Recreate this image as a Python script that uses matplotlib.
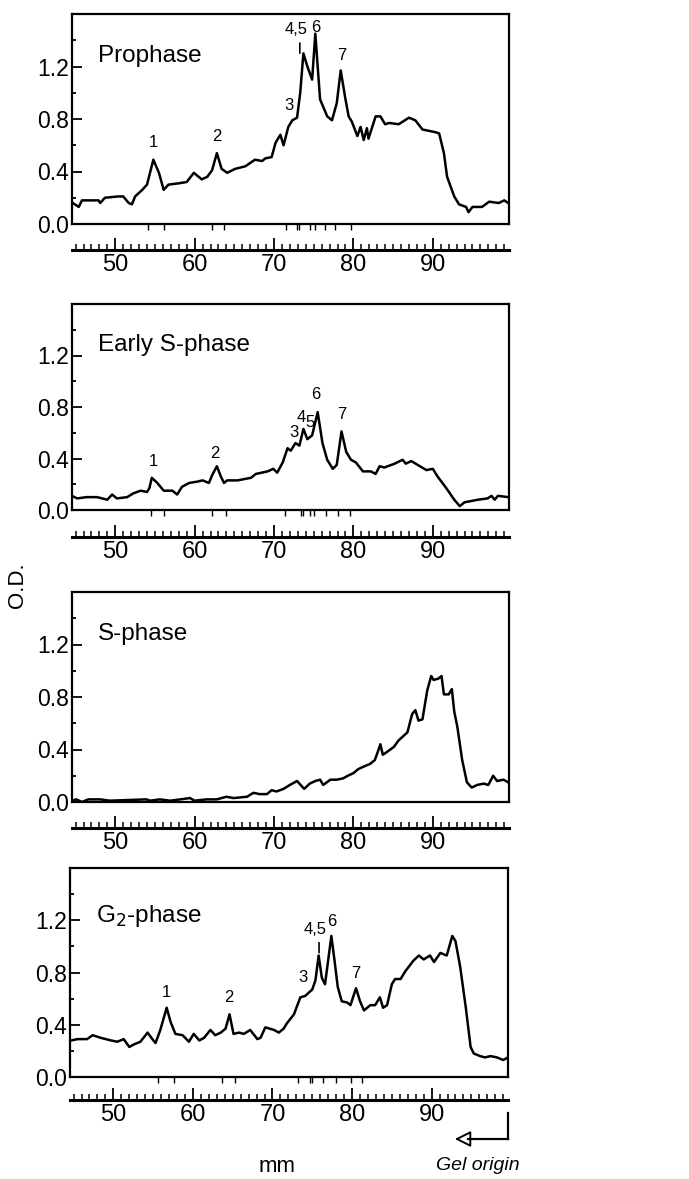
import numpy as np
import matplotlib
matplotlib.use("Agg")
import matplotlib.pyplot as plt
from matplotlib.lines import Line2D
from matplotlib.ticker import FixedLocator

plt.rcParams['font.family'] = ['Liberation Sans', 'DejaVu Sans']

# ---- densitometer traces (mm from gel, O.D.) ----
prophase_mm = [44.4, 45.4, 45.8, 47.9, 48.1, 48.7, 50.4, 51.0, 51.7, 52.1, 52.5, 53.4, 54.0,
               54.8, 55.5, 56.1, 56.7, 58.0, 59.0, 59.9, 60.5, 60.9, 61.6, 62.2, 62.8, 63.4,
               64.1, 65.1, 66.4, 67.6, 68.5, 68.9, 69.7, 70.2, 70.8, 71.2, 71.8, 72.3, 72.9,
               73.3, 73.7, 74.2, 74.8, 75.2, 75.8, 76.7, 77.3, 77.9, 78.4, 79.0, 79.4, 79.8,
               80.5, 80.9, 81.3, 81.7, 81.9, 82.8, 83.4, 84.0, 84.5, 85.7, 87.0, 87.8, 88.7,
               90.3, 90.8, 91.4, 91.8, 92.7, 93.3, 94.2, 94.5, 95.0, 96.2, 97.1, 98.3, 99.0, 99.5]
prophase_od = [0.17, 0.13, 0.18, 0.18, 0.16, 0.20, 0.21, 0.21, 0.16, 0.15, 0.21, 0.26, 0.30,
               0.49, 0.39, 0.26, 0.30, 0.31, 0.32, 0.39, 0.36, 0.34, 0.36, 0.41, 0.54, 0.42,
               0.39, 0.42, 0.44, 0.49, 0.48, 0.50, 0.51, 0.62, 0.68, 0.60, 0.74, 0.79, 0.81,
               1.00, 1.30, 1.20, 1.10, 1.45, 0.95, 0.82, 0.79, 0.92, 1.17, 0.95, 0.82, 0.78,
               0.67, 0.74, 0.64, 0.73, 0.65, 0.82, 0.82, 0.76, 0.77, 0.76, 0.81, 0.79, 0.72,
               0.70, 0.69, 0.54, 0.36, 0.21, 0.15, 0.13, 0.09, 0.13, 0.13, 0.17, 0.16, 0.18, 0.16]

early_s_mm = [44.2, 45.2, 46.4, 47.7, 49.0, 49.6, 50.2, 51.5, 52.3, 53.2, 54.0, 54.3, 54.6,
              55.3, 56.1, 57.2, 57.8, 58.4, 59.3, 60.3, 61.0, 61.8, 62.2, 62.8, 63.3, 63.7,
              64.1, 65.4, 67.1, 67.7, 69.2, 69.9, 70.4, 71.1, 71.7, 72.1, 72.7, 73.2, 73.7,
              74.2, 74.8, 75.5, 76.1, 76.7, 77.4, 77.9, 78.5, 79.1, 79.7, 80.3, 81.2, 82.2,
              82.8, 83.3, 83.9, 85.2, 86.2, 86.6, 87.3, 88.1, 89.2, 90.0, 90.6, 91.7, 92.7,
              93.4, 94.0, 95.7, 96.9, 97.4, 97.8, 98.2, 99.5]
early_s_od = [0.12, 0.09, 0.10, 0.10, 0.08, 0.12, 0.09, 0.10, 0.13, 0.15, 0.14, 0.17, 0.25,
              0.21, 0.15, 0.15, 0.12, 0.18, 0.21, 0.22, 0.23, 0.21, 0.27, 0.34, 0.26, 0.21,
              0.23, 0.23, 0.25, 0.28, 0.30, 0.32, 0.29, 0.37, 0.48, 0.46, 0.52, 0.50, 0.63,
              0.55, 0.58, 0.76, 0.52, 0.39, 0.32, 0.35, 0.61, 0.45, 0.39, 0.37, 0.30, 0.30,
              0.28, 0.34, 0.33, 0.36, 0.39, 0.36, 0.38, 0.35, 0.31, 0.32, 0.26, 0.17, 0.08,
              0.03, 0.06, 0.08, 0.09, 0.11, 0.08, 0.11, 0.10]

s_phase_mm = [44.5, 45.1, 45.8, 46.6, 48.1, 49.3, 53.9, 54.4, 55.6, 56.9, 58.2, 59.4, 60.0,
              61.5, 62.8, 64.0, 64.9, 66.6, 67.4, 68.2, 69.1, 69.7, 70.3, 71.2, 72.0, 72.9,
              73.8, 74.5, 75.2, 75.8, 76.2, 77.1, 77.9, 78.7, 79.3, 80.0, 80.6, 81.3, 82.1,
              82.7, 83.0, 83.4, 83.7, 84.2, 85.1, 85.7, 86.8, 87.4, 87.8, 88.2, 88.7, 89.3,
              89.8, 90.1, 90.7, 91.1, 91.4, 92.0, 92.4, 92.7, 93.1, 93.7, 94.3, 94.9, 95.6,
              96.4, 97.0, 97.6, 98.1, 98.9, 99.5]
s_phase_od = [0.01, 0.02, 0.00, 0.02, 0.02, 0.01, 0.02, 0.01, 0.02, 0.01, 0.02, 0.03, 0.01,
              0.02, 0.02, 0.04, 0.03, 0.04, 0.07, 0.06, 0.06, 0.09, 0.08, 0.10, 0.13, 0.16,
              0.10, 0.14, 0.16, 0.17, 0.13, 0.17, 0.17, 0.18, 0.20, 0.22, 0.25, 0.27, 0.29,
              0.32, 0.37, 0.44, 0.36, 0.38, 0.42, 0.47, 0.53, 0.67, 0.70, 0.62, 0.63, 0.85,
              0.96, 0.93, 0.94, 0.96, 0.82, 0.82, 0.86, 0.69, 0.57, 0.32, 0.15, 0.11, 0.13,
              0.14, 0.13, 0.20, 0.16, 0.17, 0.15]

g2_mm = [44.7, 45.5, 46.7, 47.4, 48.4, 49.7, 50.5, 51.3, 52.0, 52.6, 53.4, 54.3, 54.9, 55.3,
         55.9, 56.7, 57.2, 57.8, 58.7, 59.5, 60.1, 60.8, 61.4, 62.2, 62.8, 63.5, 64.1, 64.6,
         65.1, 65.8, 66.4, 67.2, 68.1, 68.5, 69.1, 70.2, 70.8, 71.4, 71.8, 72.7, 73.5, 74.1,
         75.0, 75.4, 75.8, 76.2, 76.6, 77.1, 77.4, 77.8, 78.2, 78.7, 79.4, 79.8, 80.5, 81.0,
         81.5, 82.3, 82.9, 83.5, 83.9, 84.4, 85.0, 85.4, 86.1, 86.7, 87.7, 88.4, 89.0, 89.8,
         90.3, 91.1, 91.9, 92.6, 93.0, 93.6, 94.3, 94.9, 95.3, 96.1, 96.7, 97.4, 98.2, 99.0, 99.6]
g2_od = [0.28, 0.29, 0.29, 0.32, 0.30, 0.28, 0.27, 0.29, 0.23, 0.25, 0.27, 0.34, 0.29, 0.26,
         0.36, 0.53, 0.42, 0.33, 0.32, 0.27, 0.33, 0.28, 0.30, 0.36, 0.32, 0.34, 0.37, 0.48,
         0.33, 0.34, 0.33, 0.36, 0.29, 0.30, 0.38, 0.36, 0.34, 0.37, 0.41, 0.48, 0.61, 0.62,
         0.67, 0.74, 0.93, 0.76, 0.71, 0.94, 1.08, 0.89, 0.69, 0.58, 0.57, 0.55, 0.68, 0.58,
         0.51, 0.55, 0.55, 0.61, 0.53, 0.55, 0.71, 0.75, 0.75, 0.81, 0.89, 0.93, 0.90, 0.93,
         0.88, 0.95, 0.93, 1.08, 1.04, 0.84, 0.53, 0.23, 0.18, 0.16, 0.15, 0.16, 0.15, 0.13, 0.15]

# peak numbers: (text, mm, O.D.)
prophase_peaks = [("1", 54.8, 0.62), ("2", 62.8, 0.67), ("3", 71.9, 0.90),
                  ("4,5", 72.8, 1.48), ("6", 75.2, 1.50), ("7", 78.5, 1.28)]
early_s_peaks = [("1", 54.8, 0.38), ("2", 62.6, 0.44), ("3", 72.5, 0.60),
                 ("4", 73.4, 0.72), ("5", 74.5, 0.68), ("6", 75.3, 0.90), ("7", 78.5, 0.74)]
s_phase_peaks = []
g2_peaks = [("1", 56.7, 0.65), ("2", 64.5, 0.61), ("3", 73.8, 0.76),
            ("4,5", 75.4, 1.13), ("6", 77.5, 1.19), ("7", 80.5, 0.79)]

# band boundary marks under each trace
prophase_marks = [54.1, 56.1, 62.2, 63.7, 71.5, 72.9, 73.2, 74.5, 75.1, 76.4, 77.7, 79.7]
early_s_marks = [54.5, 56.2, 62.2, 63.9, 71.4, 73.4, 73.7, 74.5, 75.0, 76.6, 78.1, 79.6]
s_phase_marks = []
g2_marks = [55.6, 57.6, 63.7, 65.3, 73.2, 74.7, 75.0, 76.4, 78.0, 79.9, 81.3]

titles = ["Prophase", "Early S-phase", "S-phase", "G$_2$-phase"]

W, H = 689, 1179
fig = plt.figure(figsize=(W / 100, H / 100), dpi=100)

# axes boxes in pixels: left, top, right, bottom ; ruler offset below box
boxes = [(72, 14, 509, 224), (72, 304, 509, 510), (72, 592, 509, 802), (70, 868, 508, 1077)]
ruler_off = [26, 27, 26, 23]

panels = [
    (prophase_mm, prophase_od, prophase_peaks, prophase_marks),
    (early_s_mm, early_s_od, early_s_peaks, early_s_marks),
    (s_phase_mm, s_phase_od, s_phase_peaks, s_phase_marks),
    (g2_mm, g2_od, g2_peaks, g2_marks),
]

for i, ((mm, od, peaks, marks), (l, t, r, b)) in enumerate(zip(panels, boxes)):
    ax = fig.add_axes([l / W, 1 - b / H, (r - l) / W, (b - t) / H])
    ax.plot(mm, od, color="black", lw=1.8, solid_joinstyle="round")
    ax.set_xlim(44.55, 99.6)
    ax.set_ylim(0, 1.6)
    for sp in ax.spines.values():
        sp.set_linewidth(1.6)

    ax.set_yticks([0.0, 0.4, 0.8, 1.2])
    ax.set_yticklabels(["0.0", "0.4", "0.8", "1.2"])
    ax.yaxis.set_minor_locator(FixedLocator([0.2, 0.6, 1.0, 1.4]))
    ax.tick_params(axis="y", which="major", direction="in", length=7, width=1.3,
                   labelsize=16.5, pad=2)
    ax.tick_params(axis="y", which="minor", direction="in", length=3, width=1.3)

    ax.set_xticks(marks)
    ax.tick_params(axis="x", which="major", direction="out", length=4, width=1.0,
                   labelbottom=False)

    # mm ruler under the box
    sec = ax.secondary_xaxis(-ruler_off[i] / (b - t))
    sec.spines["bottom"].set_linewidth(2.2)
    sec.set_xticks([50, 60, 70, 80, 90])
    sec.set_xticklabels(["50", "60", "70", "80", "90"])
    sec.xaxis.set_minor_locator(FixedLocator(list(range(45, 100))))
    sec.tick_params(which="major", direction="in", length=9, width=1.3, labelsize=17, pad=3)
    sec.tick_params(which="minor", direction="in", length=4, width=1.1)

    ax.text(0.06, 0.80 if i != 3 else 0.77, titles[i], transform=ax.transAxes,
            fontsize=17.5, ha="left", va="center")

    for txt, x, y in peaks:
        ax.text(x, y, txt, fontsize=12, ha="center", va="center")
        if txt == "4,5":
            ax.annotate("", xy=(x + 0.45, y - 0.2), xytext=(x + 0.45, y - 0.08),
                        arrowprops=dict(arrowstyle="-", lw=1.2, color="black"))

fig.text(18 / W, 1 - 585 / H, "O.D.", rotation=90, ha="center", va="center", fontsize=16)
fig.text(277 / W, 1 - 1167 / H, "mm", ha="center", va="center", fontsize=16)
fig.text(520 / W, 1 - 1165 / H, "Gel origin", ha="right", va="center", fontsize=14,
         style="italic")

# gel origin arrow
fig.add_artist(Line2D([508 / W, 508 / W], [1 - 1113 / H, 1 - 1139 / H],
                      transform=fig.transFigure, color="black", lw=1.6))
fig.add_artist(Line2D([508 / W, 468 / W], [1 - 1139 / H, 1 - 1139 / H],
                      transform=fig.transFigure, color="black", lw=1.6))
plt.annotate("", xy=(452 / W, 1 - 1139 / H), xytext=(472 / W, 1 - 1139 / H),
             xycoords="figure fraction", textcoords="figure fraction",
             arrowprops=dict(arrowstyle="-|>", fc="white", ec="black", lw=1.4,
                             mutation_scale=24))

fig.savefig("out.png", dpi=100)
